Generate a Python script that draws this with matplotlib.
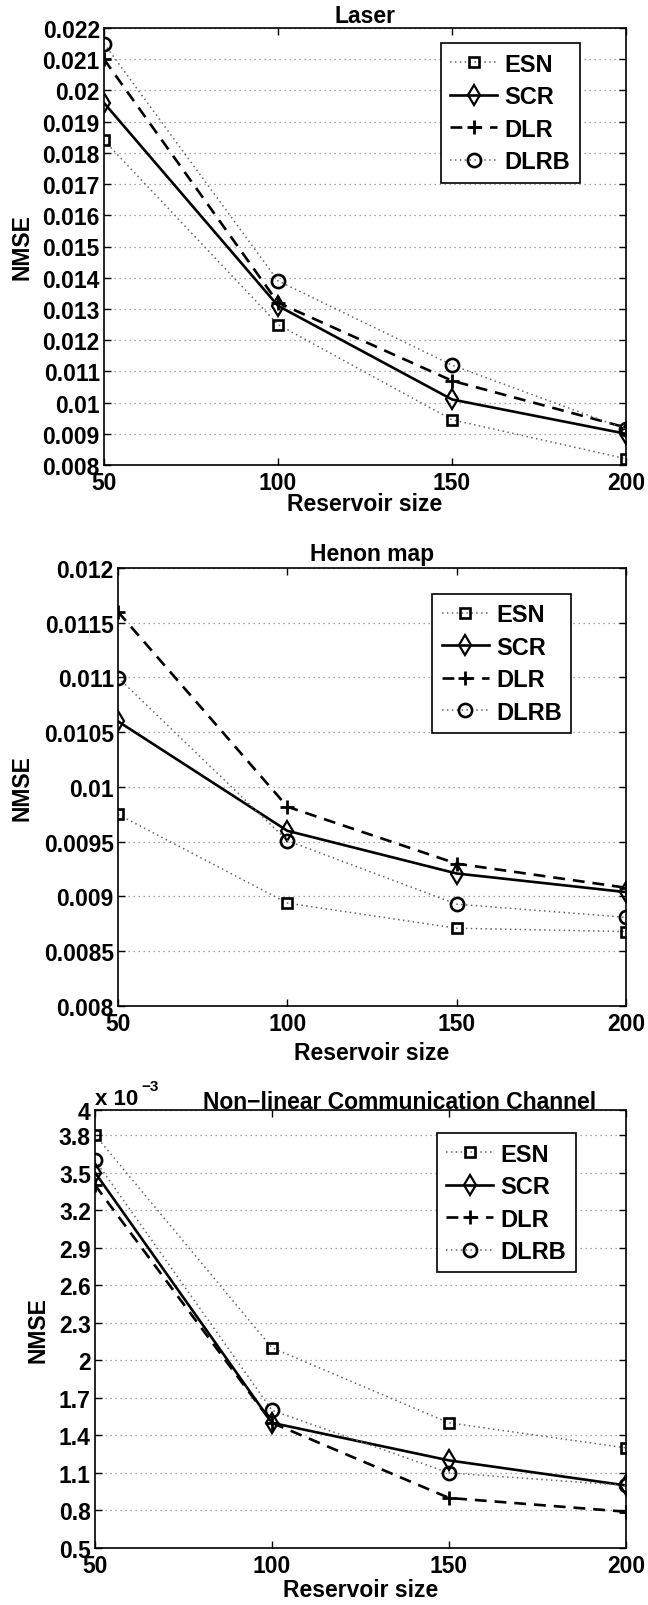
import numpy as np
import matplotlib
matplotlib.use("Agg")
import matplotlib.pyplot as plt
from matplotlib.ticker import FixedLocator, FuncFormatter

plt.rcParams["font.family"] = ["Liberation Sans", "DejaVu Sans"]
plt.rcParams["font.weight"] = "bold"
plt.rcParams["font.size"] = 16.5

W, H = 648, 1606

sizes = [50, 100, 150, 200]
methods = ["ESN", "SCR", "DLR", "DLRB"]

# Laser
laser_esn = [0.0184, 0.0125, 0.00945, 0.0082]
laser_scr = [0.0196, 0.0131, 0.0101, 0.0090]
laser_dlr = [0.0210, 0.0132, 0.0107, 0.0092]
laser_dlrb = [0.0215, 0.0139, 0.0112, 0.00915]
laser_yticks = np.arange(0.008, 0.0221, 0.001)

# Henon map
henon_esn = [0.00975, 0.00894, 0.00871, 0.00868]
henon_scr = [0.0106, 0.0096, 0.00921, 0.00904]
henon_dlr = [0.0116, 0.00982, 0.00930, 0.00908]
henon_dlrb = [0.0110, 0.00951, 0.00893, 0.00881]
henon_yticks = np.arange(0.008, 0.01201, 0.0005)

# Non-linear communication channel, in units of 1e-3
chan_esn = [3.8, 2.1, 1.5, 1.3]
chan_scr = [3.5, 1.5, 1.2, 1.0]
chan_dlr = [3.4, 1.5, 0.9, 0.79]
chan_dlrb = [3.6, 1.6, 1.1, 1.0]
chan_yticks = [0.5, 0.8, 1.1, 1.4, 1.7, 2.0, 2.3, 2.6, 2.9, 3.2, 3.5, 3.8, 4.0]

styles = {
    "ESN": dict(color="0.4", lw=1.1, ls=(0, (1, 2.2)), marker="s", ms=7.5,
                mfc="none", mec="black", mew=1.9),
    "SCR": dict(color="black", lw=1.9, ls="-", marker="d", ms=10,
                mfc="none", mec="black", mew=1.6),
    "DLR": dict(color="black", lw=1.9, ls=(0, (4.5, 3)), marker="+", ms=10,
                mec="black", mew=2.0),
    "DLRB": dict(color="0.4", lw=1.1, ls=(0, (1, 2.2)), marker="o", ms=9.5,
                 mfc="none", mec="black", mew=1.9),
}


def add_panel(box, series, ylim, yticks, title, title_x, title_y,
              xlabel_y, ylabel_x, legend_anchor):
    left, top, right, bottom = box
    fig_rect = [left / W, 1 - bottom / H, (right - left) / W, (bottom - top) / H]
    ax = fig.add_axes(fig_rect)

    for name, values in zip(methods, series):
        ax.plot(sizes, values, label=name, **styles[name])

    ax.set_xlim(50, 200)
    ax.set_ylim(*ylim)
    ax.xaxis.set_major_locator(FixedLocator(sizes))
    ax.yaxis.set_major_locator(FixedLocator(yticks))
    ax.yaxis.set_major_formatter(FuncFormatter(lambda v, p: "{:g}".format(round(v, 6))))
    ax.tick_params(direction="in", length=5, width=1, top=True, right=True,
                   labelsize=16.5)
    ax.tick_params(axis="x", pad=4)
    ax.tick_params(axis="y", pad=3)
    ax.grid(axis="y", color="0.55", lw=0.9, ls=(0, (1, 3)))
    ax.set_axisbelow(True)
    for sp in ax.spines.values():
        sp.set_linewidth(1.2)

    ax.set_title(title, x=title_x, y=title_y, pad=0, va="baseline",
                 fontsize=16.5, fontweight="bold")
    ax.set_xlabel("Reservoir size", va="baseline", fontweight="bold")
    ax.xaxis.set_label_coords(0.5, xlabel_y)
    ax.set_ylabel("NMSE", fontweight="bold")
    ax.yaxis.label.set_va("center")
    ax.yaxis.set_label_coords(ylabel_x, 0.5)

    leg = ax.legend(loc="upper right", bbox_to_anchor=legend_anchor,
                    numpoints=1, handlelength=2.0, handletextpad=0.3,
                    labelspacing=0.4, borderpad=0.4, borderaxespad=0,
                    fancybox=False, framealpha=1, edgecolor="black",
                    prop={"weight": "bold", "size": 17})
    leg.get_frame().set_linewidth(1.2)
    return ax


fig = plt.figure(figsize=(W / 100, H / 100), dpi=100)

add_panel((104, 29, 626, 466),
          [laser_esn, laser_scr, laser_dlr, laser_dlrb],
          (0.008, 0.022), laser_yticks, "Laser", 0.5, 1.014,
          -0.103, -0.157, (0.911, 0.965))

add_panel((118, 569, 626, 1007),
          [henon_esn, henon_scr, henon_dlr, henon_dlrb],
          (0.008, 0.012), henon_yticks, "Henon map", 0.5, 1.018,
          -0.121, -0.189, (0.892, 0.941))

add_panel((95, 1111, 626, 1549),
          [chan_esn, chan_scr, chan_dlr, chan_dlrb],
          (0.5, 4.0), chan_yticks,
          "Non\u2212linear Communication Channel", 0.574, 1.005,
          -0.110, -0.107, (0.905, 0.947))

# scale factor for the channel NMSE axis
fig.text(95 / W, 1 - 1105 / H, "x 10", ha="left", va="baseline",
         fontsize=16, fontweight="bold")
fig.text(141 / W, 1 - 1091 / H, "\u22123", ha="left", va="baseline",
         fontsize=11, fontweight="bold")

fig.savefig("out.png", dpi=100)
